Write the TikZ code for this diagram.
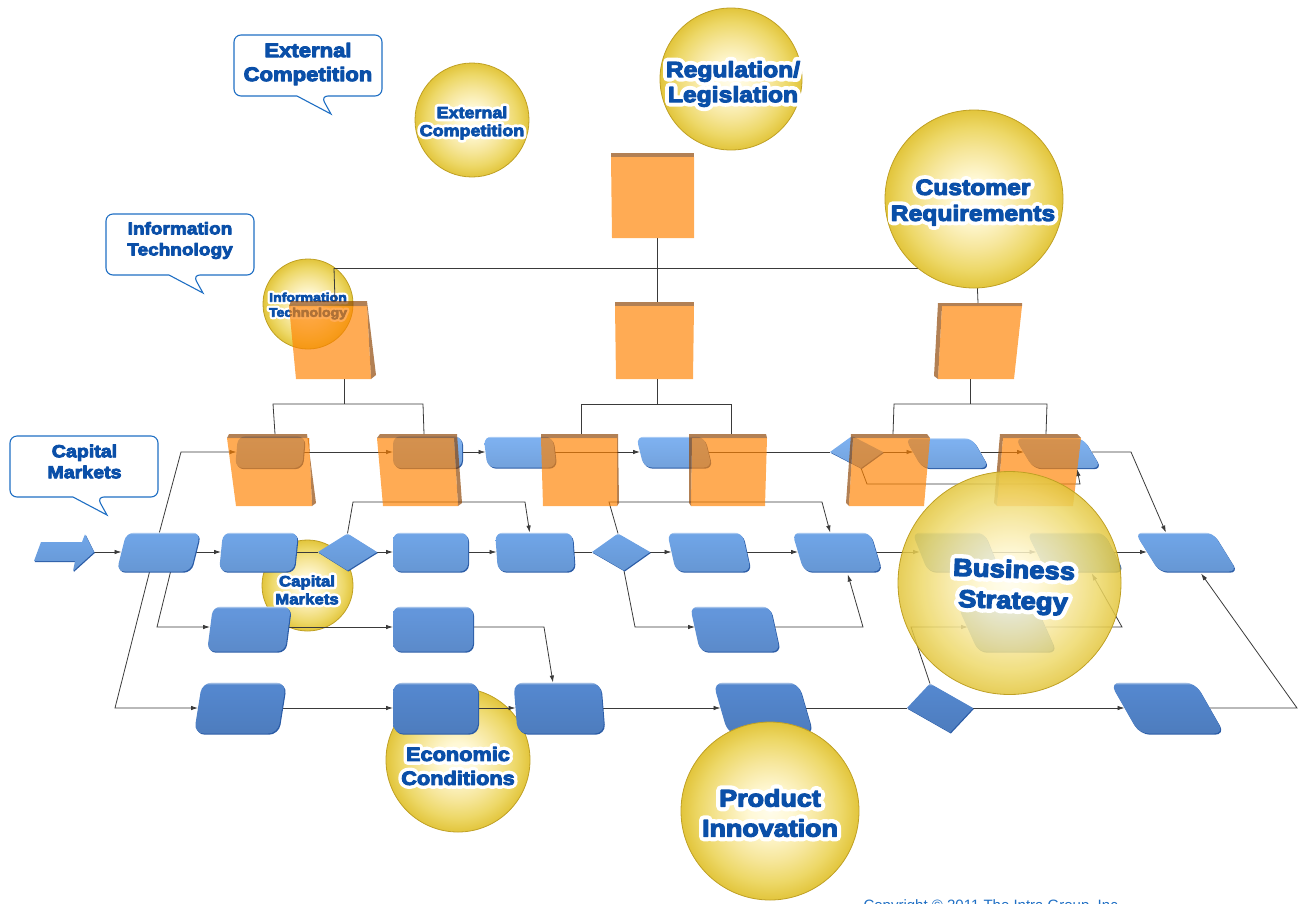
\documentclass[tikz,border=0pt]{standalone}
\usepackage{fontspec}
\usetikzlibrary{shapes.geometric,shadows,arrows.meta}
\newfontfamily\ballfont[FakeBold=5,FakeStretch=1.12]{Liberation Sans Bold}
\newfontfamily\halofont[FakeBold=40,FakeStretch=1.12]{Liberation Sans Bold}
\setmainfont{Liberation Sans}
\definecolor{labelblue}{HTML}{0A4FA8}
\definecolor{linkgray}{HTML}{3A3A3A}
\definecolor{ballrim}{HTML}{BFA024}
\definecolor{orangeface}{RGB}{255,130,0}
\definecolor{orangeedge}{RGB}{140,66,0}
\definecolor{bluelip}{HTML}{2B5CA6}
\definecolor{callline}{HTML}{1F6FC4}
\definecolor{rowa}{HTML}{7DB0EF}
\definecolor{rowb}{HTML}{6FA4E6}
\definecolor{rowc}{HTML}{6396DB}
\definecolor{rowd}{HTML}{5487CE}
\definecolor{ballone}{HTML}{FFFCEB}
\definecolor{balltwo}{HTML}{FFF8D5}
\definecolor{ballthree}{HTML}{F6E69A}
\definecolor{ballfour}{HTML}{EDD868}
\definecolor{ballfive}{HTML}{E2C53C}
\pgfdeclareradialshading{glassball}{\pgfpoint{0bp}{0bp}}{color(0bp)=(ballone); color(6bp)=(balltwo); color(14bp)=(ballthree); color(20bp)=(ballfour); color(25bp)=(ballfive); color(50bp)=(ballfive)}
\pgfdeclareverticalshading{shaderowa}{100bp}{color(0bp)=(rowa!92!black); color(25bp)=(rowa!92!black); color(68bp)=(rowa); color(73bp)=(rowa); color(75bp)=(rowa!45!white); color(100bp)=(rowa!45!white)}
\pgfdeclareverticalshading{shaderowb}{100bp}{color(0bp)=(rowb!92!black); color(25bp)=(rowb!92!black); color(68bp)=(rowb); color(73bp)=(rowb); color(75bp)=(rowb!45!white); color(100bp)=(rowb!45!white)}
\pgfdeclareverticalshading{shaderowc}{100bp}{color(0bp)=(rowc!92!black); color(25bp)=(rowc!92!black); color(68bp)=(rowc); color(73bp)=(rowc); color(75bp)=(rowc!45!white); color(100bp)=(rowc!45!white)}
\pgfdeclareverticalshading{shaderowd}{100bp}{color(0bp)=(rowd!92!black); color(25bp)=(rowd!92!black); color(68bp)=(rowd); color(73bp)=(rowd); color(75bp)=(rowd!45!white); color(100bp)=(rowd!45!white)}
\newcommand{\halo}[1]{\special{pdf:code 1 j}\rlap{\halofont\color{white}#1}{\ballfont\color{labelblue}#1}\special{pdf:code 0 j}}
\pgfdeclarelayer{balls}
\pgfdeclarelayer{wires}
\pgfsetlayers{balls,wires,main}
\tikzset{
  ball/.style={circle,inner sep=0pt,outer sep=0pt,shade,shading=glassball,draw=ballrim,thick,minimum size=#1},
  balltext/.style={align=center,inner sep=0pt},
  bluebox/.style={rectangle,rounded corners=8pt,inner sep=0pt,outer sep=0pt,transform shape,shade,shading=shade#1,
    copy shadow={shadow xshift=1pt,shadow yshift=-1.2pt,fill=bluelip,draw=none,opacity=1}},
  bluegem/.style={diamond,inner sep=0pt,outer sep=0pt,transform shape,shade,shading=shade#1,
    copy shadow={shadow xshift=.8pt,shadow yshift=-1pt,fill=bluelip,draw=none,opacity=1}},
  bubble/.style={draw=callline,line width=1.1pt,fill=white,rounded corners=7pt},
  link/.style={draw=linkgray,line width=.8pt},
  arrowlink/.style={link,-{Latex[length=7pt,width=4.5pt]}},
  face/.style={fill=orangeface,opacity=.67},
  rim/.style={fill=orangeedge,opacity=.67}
}
\begin{document}
\begin{tikzpicture}[x=1pt,y=-1pt]
\useasboundingbox (0,0) rectangle (1298,903);

% balls at the back
\begin{pgfonlayer}{balls}
\node[ball=114pt] (extball) at (472,120) {};
\node[balltext,font=\fontsize{16}{18}\selectfont] (exttext) at (472,123) {\halo{External}\\\halo{Competition}};
\node[ball=142pt] (regball) at (731,79) {};
\node[balltext,font=\fontsize{22}{25}\selectfont] (regtext) at (733,84) {\halo{Regulation/}\\\halo{Legislation}};
\node[ball=90pt] (itball) at (308,304) {};
\node[balltext,font=\fontsize{12.6}{15}\selectfont] (ittext) at (308,306) {\halo{Information}\\\halo{Technology}};
\node[ball=91pt] (capball) at (307.5,585.5) {};
\node[balltext,font=\fontsize{15}{18}\selectfont] (captext) at (307,590) {\halo{Capital}\\\halo{Markets}};
\node[ball=144pt] (ecoball) at (458,760) {};
\node[balltext,font=\fontsize{19.4}{24}\selectfont] (ecotext) at (458,766) {\halo{Economic}\\\halo{Conditions}};
\end{pgfonlayer}

% callouts
\draw[bubble] (234,35) -- (382,35) -- (382,96) -- (321,96) [sharp corners] -- (331,114) -- (297,96) [rounded corners=7pt] -- (234,96) -- cycle;
\draw[bubble] (106,214) -- (254,214) -- (254,275) -- (193,275) [sharp corners] -- (203,293) -- (169,275) [rounded corners=7pt] -- (106,275) -- cycle;
\draw[bubble] (10,436) -- (158,436) -- (158,497) -- (97,497) [sharp corners] -- (107,515) -- (73,497) [rounded corners=7pt] -- (10,497) -- cycle;
\node[balltext,font=\fontsize{19.7}{24}\selectfont] (extlabel) at (308,64) {\halo{External}\\\halo{Competition}};
\node[balltext,font=\fontsize{17}{21}\selectfont] (itlabel) at (180,240.5) {\halo{Information}\\\halo{Technology}};
\node[balltext,font=\fontsize{17.5}{21}\selectfont] (caplabel) at (84.5,461.5) {\halo{Capital}\\\halo{Markets}};

% row 1
\node[bluebox=rowa,minimum width=67pt,minimum height=32pt,xslant=.09] (ra) at (270,452) {};
\node[bluebox=rowa,minimum width=69pt,minimum height=32pt] (rb) at (427.5,452) {};
\node[bluebox=rowa,minimum width=69pt,minimum height=31pt,xslant=-.12] (rc) at (520,452) {};
\node[bluebox=rowa,minimum width=68pt,minimum height=31pt,xslant=-.25] (rd) at (674,452) {};
\node[bluegem=rowa,minimum width=53pt,minimum height=32pt,xslant=-.28] (re) at (856.5,452) {};
\node[bluebox=rowa,minimum width=67pt,minimum height=30pt,xslant=-.57] (rf) at (947,453) {};
\node[bluebox=rowa,minimum width=68pt,minimum height=30pt,xslant=-.6] (rg) at (1058,453) {};

% row 2
\node[bluebox=rowb,minimum width=74pt,minimum height=39pt,xslant=.25] (sa) at (158.5,552) {};
\node[bluebox=rowb,minimum width=75pt,minimum height=39pt,xslant=.1] (sb) at (258.5,552) {};
\node[bluegem=rowb,minimum width=59pt,minimum height=37pt] (sc) at (347.5,552) {};
\node[bluebox=rowb,minimum width=75pt,minimum height=39pt] (sd) at (430.5,552) {};
\node[bluebox=rowb,minimum width=77pt,minimum height=39pt,xslant=-.07] (se) at (535,552) {};
\node[bluegem=rowb,minimum width=58pt,minimum height=37pt,xslant=-.16] (sf) at (621,552) {};
\node[bluebox=rowb,minimum width=75pt,minimum height=39pt,xslant=-.22] (sg) at (709,552) {};
\node[bluebox=rowb,minimum width=78pt,minimum height=39pt,xslant=-.3] (sh) at (837,552) {};
\node[bluebox=rowb,minimum width=72pt,minimum height=39pt,xslant=-.4] (si) at (956,552) {};
\node[bluebox=rowb,minimum width=77pt,minimum height=39pt,xslant=-.5] (sj) at (1075,552) {};
\node[bluebox=rowb,minimum width=78pt,minimum height=39pt,xslant=-.62] (sk) at (1186,552) {};

% row 3
\node[bluebox=rowc,minimum width=78pt,minimum height=45pt,xslant=.13] (ta) at (249,629) {};
\node[bluebox=rowc,minimum width=80pt,minimum height=45pt] (tb) at (433,629) {};
\node[bluebox=rowc,minimum width=80pt,minimum height=45pt,xslant=-.22] (tc) at (735,629) {};
\node[bluebox=rowc,minimum width=78pt,minimum height=45pt,xslant=-.45] (td) at (1007,629) {};

% row 4
\node[bluebox=rowd,rounded corners=10pt,minimum width=84pt,minimum height=51pt,xslant=.16] (ua) at (240,708) {};
\node[bluebox=rowd,rounded corners=10pt,minimum width=85pt,minimum height=51pt] (ub) at (435.5,708) {};
\node[bluebox=rowd,rounded corners=10pt,minimum width=87pt,minimum height=51pt,xslant=-.08] (uc) at (559,708) {};
\node[bluebox=rowd,rounded corners=10pt,minimum width=85pt,minimum height=51pt,xslant=-.29] (ud) at (763,708) {};
\node[bluegem=rowd,minimum width=66pt,minimum height=49pt,xslant=-.41] (ue) at (940,708) {};
\node[bluebox=rowd,rounded corners=10pt,minimum width=85pt,minimum height=51pt,xslant=-.57] (uf) at (1167,708) {};

\draw[fill=bluelip,draw=none,shift={(.8,1)}] (34,561) -- (41,542) -- (82,542) -- (85,534) -- (94,552) -- (73,571) -- (75,561) -- cycle;
\shade[shading=shaderowb] (34,561) -- (41,542) -- (82,542) -- (85,534) -- (94,552) -- (73,571) -- (75,561) -- cycle;
\coordinate (startarrow) at (94,552);

% named ends on the orange blocks
\coordinate (regbot) at (657,238);
\coordinate (itblocktop) at (335,301);
\coordinate (itblockbot) at (344,379);
\coordinate (midblocktop) at (657,302);
\coordinate (midblockbot) at (657,379);
\coordinate (cusblocktop) at (978,303);
\coordinate (cusblockbot) at (970,379);
\coordinate (hubleft) at (334,268);
\coordinate (blockatop) at (275,434);
\coordinate (blockbtop) at (424,434);
\coordinate (blockctop) at (581,434);
\coordinate (blockdtop) at (731,434);
\coordinate (blocketop) at (893,434);
\coordinate (blockftop) at (1046,434);

% top block
\fill[rim] (611,153) -- (694,153) -- (694,157) -- (611,157) -- cycle;
\fill[face] (611,157) -- (694,157) -- (694,238) -- (612,238) -- cycle;
% middle row
\fill[rim] (291,301) -- (367,301) -- (376,375) -- (371,379) -- (367,306) -- (289,306) -- cycle;
\fill[face] (289,306) -- (367,306) -- (371,379) -- (296,379) -- cycle;
\fill[rim] (615,302) -- (694,302) -- (694,306) -- (615,306) -- cycle;
\fill[face] (615,306) -- (694,306) -- (693,379) -- (616,379) -- cycle;
\fill[rim] (938,303) -- (1022,303) -- (1022,306) -- (942,306) -- (938,379) -- (934,376) -- cycle;
\fill[face] (942,306) -- (1022,306) -- (1014,379) -- (938,379) -- cycle;
% lower row
\fill[rim] (229,434) -- (307,434) -- (316,503) -- (312,506) -- (309,438) -- (227,438) -- cycle;
\fill[face] (227,438) -- (309,438) -- (312,506) -- (236,506) -- cycle;
\fill[rim] (380,434) -- (457,434) -- (462,503) -- (458,506) -- (454,438) -- (377,438) -- cycle;
\fill[face] (377,438) -- (454,438) -- (458,506) -- (383,506) -- cycle;
\fill[rim] (541,434) -- (618,434) -- (619,503) -- (617,506) -- (617,438) -- (541,438) -- cycle;
\fill[face] (541,438) -- (617,438) -- (617,506) -- (543,506) -- cycle;
\fill[rim] (689,434) -- (766,434) -- (767,438) -- (692,438) -- (691,506) -- (689,503) -- cycle;
\fill[face] (692,438) -- (767,438) -- (765,506) -- (691,506) -- cycle;
\fill[rim] (851,434) -- (927,434) -- (930,438) -- (853,438) -- (849,506) -- (846,503) -- cycle;
\fill[face] (853,438) -- (930,438) -- (924,506) -- (849,506) -- cycle;
\fill[rim] (1000,434) -- (1077,434) -- (1081,438) -- (1003,438) -- (997,506) -- (994,503) -- cycle;
\fill[face] (1003,438) -- (1081,438) -- (1073,506) -- (997,506) -- cycle;

% balls in front
\node[ball=178pt] (cusball) at (974,199) {};
\node[balltext,font=\fontsize{22}{26}\selectfont] (custext) at (973,202.5) {\halo{Customer}\\\halo{Requirements}};
\node[ball=178pt] (proball) at (770,811) {};
\node[balltext,font=\fontsize{24}{30}\selectfont] (protext) at (770,813) {\halo{Product}\\\halo{Innovation}};
\node[ball=223pt,fill opacity=.85] (busball) at (1009.5,583) {};
\node[balltext,font=\fontsize{24.5}{31}\selectfont,rotate=-2] (bustext) at (1013.5,587) {\halo{Business}\\\halo{Strategy}};

\node[text=callline,font=\fontsize{15}{18}\selectfont,anchor=base west] (copyline) at (860,910) {Copyright © 2011 The Intra Group, Inc.};

% links
\begin{pgfonlayer}{wires}
\draw[link] (hubleft) -- (hubleft -| cusball);
\draw[link] (hubleft) -- (itblocktop);
\draw[link] (regbot) -- (midblocktop);
\draw[link] (cusball) -- (cusblocktop);
\draw[link] (itblockbot) -- (344,404);
\draw[link] (blockatop) -- (273,404) -- (423,404) -- (blockbtop);
\draw[link] (midblockbot) -- (657,404);
\draw[link] (blockctop) -- (581,404) -- (731,404) -- (blockdtop);
\draw[link] (cusblockbot) -- (970,404);
\draw[link] (blocketop) -- (894,404) -- (1047,404) -- (blockftop);

\draw[arrowlink] (ra) -- (rb.west);
\draw[arrowlink] (rb) -- (rc.west);
\draw[arrowlink] (rc) -- (rd.west);
\draw[link] (rd) -- (re);
\draw[arrowlink] (re) -- ([yshift=1pt]rf.west);
\draw[arrowlink] ([yshift=1pt]rf.east) -- ([yshift=1pt]rg.west);
\draw[arrowlink] ([yshift=1pt]rg.east) -- (1131,452) -- ([xshift=-8pt]sk.north);
\draw[arrowlink] ([xshift=-4pt]sa.north) -- (181,452) -- (ra.west);
\draw[arrowlink] (re.south) -- (867,484) -- (1080,484) -- ([xshift=10pt,yshift=-1pt]rg.south);

\draw[arrowlink] (startarrow) -- (sa.west);
\draw[arrowlink] (sa) -- (sb.west);
\draw[link] (sb) -- (sc);
\draw[arrowlink] (sc) -- (sd.west);
\draw[arrowlink] (sd) -- (se.west);
\draw[link] (se) -- (sf);
\draw[arrowlink] (sf) -- (sg.west);
\draw[arrowlink] (sg) -- (sh.west);
\draw[arrowlink] (sh) -- (si.west);
\draw[arrowlink] (si) -- (sj.west);
\draw[arrowlink] (sj) -- (sk.west);
\draw[arrowlink] (sc.north) -- (353,502) -- (525,502) -- ([xshift=-4pt]se.north);
\draw[arrowlink] (sf.north) -- (609,502) -- (822,502) -- ([xshift=-1pt]sh.north);
\draw[arrowlink] (sf.south) -- (635,627) -- ([yshift=2pt]tc.west);
\draw[arrowlink] ([yshift=2pt]tc.east) -- (863,627) -- ([xshift=5pt,yshift=-3pt]sh.south);
\draw[arrowlink] ([xshift=17pt]sa.south) -- (157,627) -- ([yshift=2pt]ta.west);
\draw[arrowlink] ([xshift=-4pt]sa.south) -- (115,708) -- (ua.west);
\draw[arrowlink] ([yshift=2pt]ta.east) -- ([yshift=2pt]tb.west);
\draw[arrowlink] ([yshift=2pt]tb.east) -- (544,627) -- ([xshift=-4pt]uc.north);
\draw[arrowlink] (ua) -- (ub.west);
\draw[arrowlink] (ub) -- (uc.west);
\draw[arrowlink] (uc) -- (ud.west);
\draw[link] (ud) -- (ue);
\draw[arrowlink] (ue) -- (uf.west);
\draw[arrowlink] (uf) -- (1297,708) -- ([xshift=3pt,yshift=-2pt]sk.south);
\draw[arrowlink] (ue.north) -- (911,627) -- ([yshift=2pt]td.west);
\draw[arrowlink] ([yshift=2pt]td.east) -- (1122,627) -- ([xshift=7pt,yshift=-2pt]sj.south);
\end{pgfonlayer}
\end{tikzpicture}
\end{document}
